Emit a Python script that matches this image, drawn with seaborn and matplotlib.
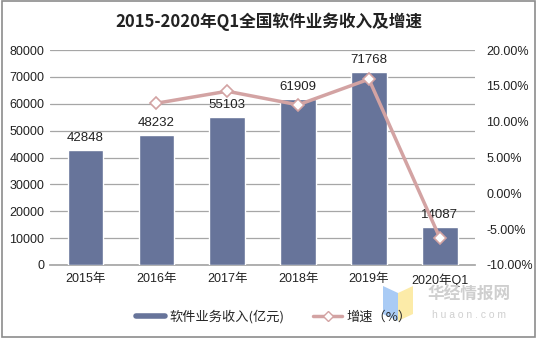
import matplotlib
matplotlib.use("Agg")
import matplotlib.pyplot as plt
import seaborn as sns
import numpy as np
import pandas as pd
from matplotlib.lines import Line2D
from matplotlib.patches import Rectangle, Polygon

categories = ["2015年", "2016年", "2017年", "2018年", "2019年", "2020年Q1"]
revenue = [42848, 48232, 55103, 61909, 71768, 14087]
growth = [None, 12.57, 14.25, 12.35, 15.93, -6.2]
left_ticks = [0, 10000, 20000, 30000, 40000, 50000, 60000, 70000, 80000]
right_ticks = [-10, -5, 0, 5, 10, 15, 20]

sns.set_theme(style="white")
plt.rcParams['font.family'] = ['Liberation Sans', 'Noto Sans CJK SC', 'DejaVu Sans']

bar_color = "#67749A"
line_color = "#D3A3A3"

fig = plt.figure(figsize=(5.37, 3.38), dpi=100)
ax = fig.add_axes([0.093, 0.216, 0.792, 0.636])

df = pd.DataFrame({"cat": categories, "rev": revenue})
sns.barplot(data=df, x="cat", y="rev", color=bar_color, width=0.5, ax=ax,
            saturation=1, zorder=3)
ax.set_ylim(0, 80000)
ax.set_yticks(left_ticks)
ax.set_xlim(-0.5, len(categories) - 0.5)
ax.yaxis.grid(True, color="#A6A6A6", linewidth=0.9, zorder=0)
ax.set_axisbelow(True)
for s in ["top", "right", "left"]:
    ax.spines[s].set_visible(False)
ax.spines["bottom"].set_color("#A6A6A6")
ax.set_xlabel("")
ax.set_ylabel("")
ax.tick_params(axis="y", length=0, labelsize=9, colors="#222222", pad=4)
ax.tick_params(axis="x", length=0, labelsize=9, colors="#222222", pad=6)
ax.set_xticks(np.arange(-0.5, len(categories), 1), minor=True)
ax.tick_params(axis="x", which="minor", length=4, color="#A6A6A6")

for i, v in enumerate(revenue):
    ax.text(i, v + 2200, f"{v}", ha="center", va="bottom", fontsize=9.5, color="#222222")

ax2 = ax.twinx()
gdf = pd.DataFrame({"x": np.arange(1, len(categories)), "g": growth[1:]})
sns.lineplot(data=gdf, x="x", y="g", ax=ax2, color=line_color, linewidth=2.5,
             marker="D", markersize=6.5, markerfacecolor="white",
             markeredgecolor=line_color, markeredgewidth=1.2, zorder=4)
ax2.set_ylim(-10, 20)
ax2.set_yticks(right_ticks)
ax2.set_yticklabels([f"{t:.2f}%" for t in right_ticks])
ax2.set_xlim(-0.5, len(categories) - 0.5)
ax2.set_ylabel("")
ax2.set_xlabel("")
for s in ["top", "right", "left", "bottom"]:
    ax2.spines[s].set_visible(False)
ax2.tick_params(axis="y", length=0, labelsize=9, colors="#222222", pad=8)

fig.text(0.5, 0.935, "2015-2020年Q1全国软件业务收入及增速", ha="center", va="center",
         fontsize=12, fontweight="bold", color="#222222",
         family=["Noto Sans CJK SC", "DejaVu Sans"])

# watermark logo
fig.patches.append(Polygon([[383/537, 1-286/338], [398/537, 1-293/338],
                            [398/537, 1-321/338], [383/537, 1-314/338]],
                           closed=True, transform=fig.transFigure,
                           facecolor="#A9CBF5", edgecolor="none", zorder=0))
fig.patches.append(Polygon([[398/537, 1-293/338], [413/537, 1-286/338],
                            [413/537, 1-314/338], [398/537, 1-321/338]],
                           closed=True, transform=fig.transFigure,
                           facecolor="#FCEBA8", edgecolor="none", zorder=0))
fig.text(0.874, 0.128, "华经情报网", ha="center", va="center", fontsize=12,
         color="#CFCFCF", fontweight="bold", family=["Noto Sans CJK SC", "DejaVu Sans"])
fig.text(0.874, 0.068, "h u a o n . c o m", ha="center", va="center", fontsize=7.5,
         color="#D0D0D0")

handles = [Line2D([0], [0], color=bar_color, linewidth=4),
           Line2D([0], [0], color=line_color, linewidth=2.5, marker="D",
                  markersize=5, markerfacecolor="white", markeredgecolor=line_color)]
fig.legend(handles, ["软件业务收入(亿元)", "增速（%）"], loc="center",
           bbox_to_anchor=(0.51, 0.064), ncol=2, frameon=False,
           handlelength=2.2, columnspacing=2.2, handletextpad=0.3,
           prop={"family": ["Noto Sans CJK SC", "DejaVu Sans"], "size": 9.5})

fig.patches.append(Rectangle((0.003, 0.004), 0.994, 0.992, transform=fig.transFigure,
                             fill=False, edgecolor="#8C8C8C", linewidth=1.2))

fig.savefig("out.png", dpi=100, facecolor="white")
